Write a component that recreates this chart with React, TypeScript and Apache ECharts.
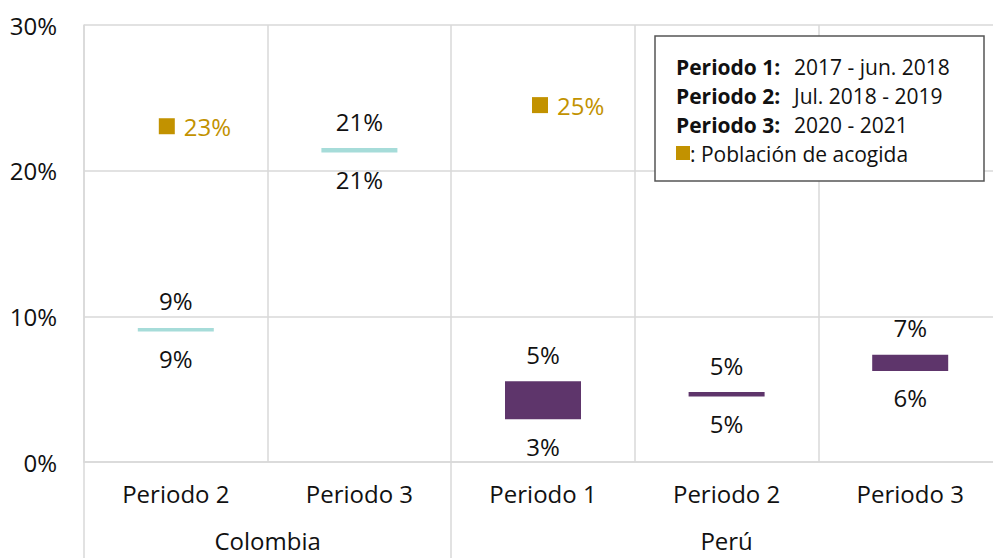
import React, { useEffect, useRef } from "react";
import * as echarts from "echarts";

const categories = ["Periodo 2", "Periodo 3", "Periodo 1", "Periodo 2", "Periodo 3"];
const countries = ["Colombia", "Colombia", "Perú", "Perú", "Perú"];
const lowValues = [8.96, 21.25, 2.93, 4.5, 6.25];
const highValues = [9.2, 21.55, 5.55, 4.8, 7.36];
const lowLabels = ["9%", "21%", "3%", "5%", "6%"];
const highLabels = ["9%", "21%", "5%", "5%", "7%"];
const acogidaValues: (number | string)[] = [23.05, "-", 24.5, "-", "-"];
const acogidaLabels = ["23%", "", "25%", "", ""];
const groupAxisLabels = ["", "", "Colombia", "", "", "", "", "Perú", "", "", ""];
const yTicks = { min: 0, max: 30, interval: 10 };
const legendLines = [
  { key: "Periodo 1:", value: "2017 - jun. 2018" },
  { key: "Periodo 2:", value: "Jul. 2018 - 2019" },
  { key: "Periodo 3:", value: "2020 - 2021" },
];
const legendAcogida = ": Población de acogida";

const countryColor: Record<string, string> = {
  Colombia: "#a6dcd9",
  Perú: "#5e356b",
};
const GOLD = "#c29200";
const GRID = "#d9d9d9";
const FONT = "'Open Sans', sans-serif";
const FS = 24;
const LFS = 21;

export default function App() {
  const ref = useRef<HTMLDivElement>(null);
  useEffect(() => {
    if (!ref.current) return;
    const chart = echarts.init(ref.current, undefined, { renderer: "svg" });
    const spans = highValues.map((h, i) => +(h - lowValues[i]).toFixed(4));
    chart.setOption({
      animation: false,
      textStyle: { fontFamily: FONT },
      grid: { left: 84, right: 0, top: 25, bottom: 96 },
      xAxis: [
        {
          type: "category",
          data: categories,
          position: "bottom",
          boundaryGap: true,
          axisLine: { show: true, lineStyle: { color: GRID, width: 1.5 } },
          axisTick: { show: false },
          splitLine: { show: true, lineStyle: { color: GRID, width: 1.5 } },
          axisLabel: { interval: 0, color: "#111", fontSize: FS, margin: 19, fontFamily: FONT },
        },
        {
          type: "category",
          data: groupAxisLabels,
          position: "bottom",
          offset: 0,
          boundaryGap: false,
          axisLine: { show: false },
          axisTick: {
            show: true,
            length: 100,
            interval: (index: number) => index === 0 || index === 4,
            lineStyle: { color: GRID, width: 1.5 },
          },
          splitLine: { show: false },
          axisLabel: { interval: 0, color: "#111", fontSize: FS, margin: 66, fontFamily: FONT },
        },
      ],
      yAxis: {
        type: "value",
        min: yTicks.min,
        max: yTicks.max,
        interval: yTicks.interval,
        axisLine: { show: true, lineStyle: { color: GRID, width: 1.5 } },
        axisTick: { show: false },
        splitLine: { show: true, lineStyle: { color: GRID, width: 1.5 } },
        axisLabel: { formatter: "{value}%", color: "#111", fontSize: FS, margin: 27, fontFamily: FONT },
      },
      series: [
        {
          type: "bar",
          stack: "range",
          barWidth: 76,
          data: lowValues,
          itemStyle: { color: "transparent" },
          label: {
            show: true,
            position: "insideTop",
            distance: 15,
            color: "#111",
            fontSize: FS,
            fontFamily: FONT,
            formatter: (p: any) => lowLabels[p.dataIndex],
          },
          silent: true,
        },
        {
          type: "bar",
          stack: "range",
          barWidth: 76,
          data: spans.map((v, i) => ({ value: v, itemStyle: { color: countryColor[countries[i]] } })),
          label: {
            show: true,
            position: "top",
            distance: 15,
            color: "#111",
            fontSize: FS,
            fontFamily: FONT,
            formatter: (p: any) => highLabels[p.dataIndex],
          },
        },
        {
          type: "scatter",
          symbol: "rect",
          symbolSize: 16,
          data: acogidaValues.map((v, i) => ({
            value: v,
            symbolOffset: [countries[i] === "Colombia" ? -9 : -3, 0],
          })),
          itemStyle: { color: GOLD, opacity: 1 },
          label: {
            show: true,
            position: "right",
            distance: 9,
            color: GOLD,
            fontSize: FS,
            fontFamily: FONT,
            formatter: (p: any) => acogidaLabels[p.dataIndex],
          },
          emphasis: { disabled: true },
        },
      ],
      graphic: [
        {
          type: "rect",
          shape: { x: 655, y: 36, width: 329, height: 145 },
          style: { fill: "#fff", stroke: "#555", lineWidth: 1.5 },
          z: 100,
        },
        ...legendLines.map((l, i) => ({
          type: "text",
          x: 676,
          y: 67 + i * 29,
          z: 101,
          style: {
            text: l.key,
            verticalAlign: "middle",
            fontWeight: "bold",
            fontSize: LFS,
            fontFamily: FONT,
            fill: "#111",
          },
        })),
        ...legendLines.map((l, i) => ({
          type: "text",
          x: 794,
          y: 67 + i * 29,
          z: 101,
          style: {
            text: l.value,
            verticalAlign: "middle",
            fontSize: LFS,
            fontFamily: FONT,
            fill: "#111",
          },
        })),
        {
          type: "rect",
          shape: { x: 676, y: 146, width: 14, height: 14 },
          style: { fill: GOLD },
          z: 101,
        },
        {
          type: "text",
          x: 690,
          y: 154,
          z: 101,
          style: {
            text: legendAcogida,
            verticalAlign: "middle",
            fontSize: LFS,
            fontFamily: FONT,
            fill: "#111",
          },
        },
      ],
    });
    return () => chart.dispose();
  }, []);
  return (
    <div style={{ position: "fixed", left: 0, top: 0, width: 993, height: 558, overflow: "hidden", background: "#fff" }}>
      <div ref={ref} style={{ width: 1005, height: 558 }} />
    </div>
  );
}
